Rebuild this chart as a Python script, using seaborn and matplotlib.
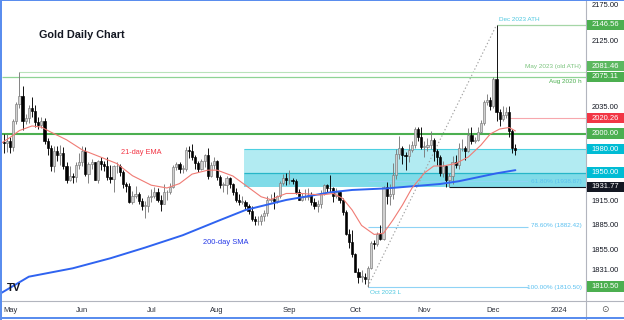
import numpy as np
import pandas as pd
import matplotlib
matplotlib.use("Agg")
import matplotlib.pyplot as plt
import seaborn as sns
from matplotlib.patches import Rectangle
from matplotlib.lines import Line2D
from matplotlib.ticker import FixedLocator, FuncFormatter, NullLocator

# ---------------- data ----------------
candle_start, candle_end = "2023-04-27", "2023-12-12"

open_ = [1989, 1988,
         1990, 1983, 2016, 2039, 2050, 2017, 2021, 2034, 2030, 2015, 2011, 2017, 1990, 1982, 1958, 1978, 1972, 1975, 1958, 1941, 1946, 1944, 1959,
         1963, 1978, 1948, 1961, 1963, 1941, 1965, 1961, 1958, 1944, 1942, 1958, 1958, 1951, 1936, 1933, 1913, 1921, 1923, 1914, 1908, 1908,
         1919, 1921, 1926, 1915, 1911, 1925, 1925, 1932, 1957, 1961, 1955, 1955, 1979, 1977, 1970, 1962, 1955, 1965, 1972, 1946, 1959,
         1965, 1944, 1934, 1934, 1943, 1936, 1925, 1915, 1913, 1913, 1908, 1902, 1892, 1889, 1889, 1895, 1899, 1916, 1917, 1914, 1920, 1937, 1943,
         1940, 1940, 1939, 1926, 1916, 1919, 1919, 1922, 1913, 1908, 1910, 1924, 1934, 1931, 1930, 1920, 1925, 1915, 1901, 1874, 1864,
         1849, 1828, 1822, 1822, 1820, 1833, 1862, 1861, 1874, 1868, 1932, 1920, 1923, 1947, 1974, 1981, 1972, 1971, 1979, 1985, 2006, 1996,
         1983, 1983, 1985, 1992, 1978, 1970, 1950, 1958, 1940, 1946, 1963, 1960, 1981, 1981, 1978, 1998, 1990, 1992, 2002, 2014, 2041, 2044,
         2036, 2072, 2029, 2019, 2025, 2028, 2004, 1982]
high_ = [2000, 2000,
         1996, 2019, 2041, 2081.46, 2063, 2026, 2037, 2048, 2038, 2022, 2022, 2020, 1994, 1985, 1984, 1984, 1985, 1983, 1964, 1958, 1950, 1963, 1975,
         1984, 1983, 1964, 1967, 1964, 1966, 1970, 1965, 1970, 1960, 1959, 1963, 1961, 1953, 1938, 1937, 1927, 1933, 1926, 1918, 1914, 1922,
         1929, 1932, 1930, 1922, 1935, 1928, 1937, 1960, 1964, 1963, 1960, 1983, 1984, 1987, 1972, 1965, 1967, 1974, 1982, 1963, 1970,
         1966, 1947, 1938, 1946, 1944, 1937, 1930, 1923, 1921, 1916, 1911, 1908, 1896, 1896, 1898, 1903, 1920, 1923, 1925, 1922, 1939, 1948, 1949,
         1953, 1943, 1942, 1929, 1924, 1929, 1930, 1925, 1918, 1915, 1928, 1936, 1936, 1947, 1932, 1930, 1927, 1918, 1903, 1880, 1879,
         1850, 1833, 1830, 1826, 1835, 1865, 1866, 1876, 1885, 1933, 1938, 1936, 1962, 1980, 1997, 1984, 1976, 1987, 1990, 2009, 2009, 2008,
         1991, 1994, 2004, 1994, 1980, 1972, 1965, 1960, 1949, 1971, 1973, 1988, 1993, 1984, 2007, 2008, 1996, 2008, 2018, 2044, 2052, 2048,
         2075, 2146.56, 2032, 2036, 2035, 2036, 2006, 1987]
low_ = [1975, 1976,
        1975, 1978, 2012, 2034, 2005, 2012, 2014, 2022, 2008, 2006, 2007, 1987, 1973, 1952, 1951, 1965, 1960, 1955, 1937, 1939, 1937, 1938, 1954,
        1958, 1946, 1937, 1955, 1940, 1937, 1953, 1952, 1941, 1937, 1925, 1950, 1946, 1930, 1925, 1912, 1910, 1918, 1910, 1903, 1893, 1900,
        1913, 1918, 1913, 1902, 1910, 1915, 1923, 1930, 1953, 1950, 1949, 1952, 1968, 1966, 1954, 1951, 1953, 1957, 1942, 1944, 1955,
        1941, 1930, 1925, 1923, 1930, 1922, 1913, 1909, 1910, 1904, 1898, 1890, 1884, 1885, 1885, 1889, 1896, 1913, 1904, 1912, 1918, 1934, 1934,
        1936, 1936, 1923, 1915, 1914, 1916, 1915, 1909, 1904, 1901, 1906, 1922, 1926, 1926, 1913, 1918, 1912, 1897, 1872, 1857, 1846,
        1828, 1815, 1816, 1813, 1810.5, 1831, 1855, 1859, 1866, 1866, 1910, 1909, 1917, 1942, 1967, 1961, 1953, 1963, 1976, 1981, 1990, 1980,
        1970, 1977, 1980, 1965, 1959, 1946, 1944, 1932, 1931.77, 1935, 1956, 1955, 1978, 1966, 1976, 1986, 1988, 1991, 2001, 2011, 2037, 2031,
        2034, 2016, 2010, 2017, 2020, 1996, 1975, 1973]
close_ = [1988, 1990,
          1983, 2016, 2039, 2050, 2017, 2021, 2034, 2030, 2015, 2011, 2017, 1990, 1982, 1958, 1978, 1972, 1975, 1958, 1941, 1946, 1944, 1959, 1963,
          1978, 1948, 1961, 1963, 1941, 1965, 1961, 1958, 1944, 1942, 1958, 1958, 1951, 1936, 1933, 1913, 1921, 1923, 1914, 1908, 1908, 1919,
          1921, 1926, 1915, 1911, 1925, 1925, 1932, 1957, 1961, 1955, 1955, 1979, 1977, 1970, 1962, 1955, 1965, 1972, 1946, 1959, 1965,
          1944, 1934, 1934, 1943, 1936, 1925, 1915, 1913, 1913, 1908, 1902, 1892, 1889, 1889, 1895, 1899, 1916, 1917, 1914, 1920, 1937, 1943, 1940,
          1940, 1939, 1926, 1916, 1919, 1919, 1922, 1913, 1908, 1910, 1924, 1934, 1931, 1930, 1920, 1925, 1915, 1901, 1874, 1864, 1849,
          1828, 1822, 1822, 1820, 1833, 1862, 1861, 1874, 1868, 1932, 1920, 1923, 1947, 1974, 1981, 1972, 1971, 1979, 1985, 2006, 1996, 1983,
          1983, 1985, 1992, 1978, 1970, 1950, 1958, 1940, 1946, 1963, 1960, 1981, 1981, 1978, 1998, 1990, 1992, 2002, 2014, 2041, 2044, 2036,
          2072, 2029, 2019, 2025, 2028, 2004, 1982, 1979]

ema_dates = ["2023-04-26", "2023-05-01", "2023-05-04", "2023-05-10", "2023-05-15", "2023-05-18", "2023-05-25",
             "2023-06-01", "2023-06-09", "2023-06-16", "2023-06-23", "2023-07-03", "2023-07-10", "2023-07-14",
             "2023-07-20", "2023-07-27", "2023-08-01", "2023-08-08", "2023-08-14", "2023-08-21", "2023-08-24",
             "2023-08-31", "2023-09-07", "2023-09-15", "2023-09-21", "2023-09-26", "2023-09-29", "2023-10-04",
             "2023-10-10", "2023-10-13", "2023-10-18", "2023-10-23", "2023-10-26", "2023-11-01", "2023-11-06",
             "2023-11-09", "2023-11-15", "2023-11-21", "2023-11-27", "2023-11-30", "2023-12-05", "2023-12-08",
             "2023-12-12"]
ema_values = [1987, 1995, 2004, 2010, 2008.5, 2002, 1992,
              1979, 1969.5, 1961.5, 1946, 1934, 1930.5, 1936,
              1948, 1953, 1953, 1945.6, 1934, 1919.5, 1916,
              1923.6, 1923.6, 1921.7, 1923.6, 1917.4, 1903, 1884,
              1873, 1874.5, 1890.7, 1909, 1930, 1949.4, 1958.3,
              1958.3, 1961.5, 1969.8, 1985, 1999.5, 2006, 2008,
              2003.5]

sma_dates = ["2023-04-26", "2023-05-09", "2023-05-29", "2023-06-14", "2023-06-29", "2023-07-17", "2023-08-02",
             "2023-08-14", "2023-08-31", "2023-09-20", "2023-09-29", "2023-10-16", "2023-11-08", "2023-11-16",
             "2023-11-24", "2023-12-04", "2023-12-12"]
sma_values = [1802.5, 1822.2, 1832.2, 1844.2, 1857, 1872, 1890.7,
              1903, 1915.5, 1925, 1928, 1930, 1935.5, 1939,
              1944, 1949, 1953]

month_starts = ["2023-05-01", "2023-06-01", "2023-07-03", "2023-08-01", "2023-09-01",
                "2023-10-02", "2023-11-01", "2023-12-01", "2024-01-01"]
month_labels = ["May", "Jun", "Jul", "Aug", "Sep", "Oct", "Nov", "Dec", "2024"]

y_ticks = [2175, 2125, 2035, 1915, 1885, 1855, 1831]

ath_value, ath_date = 2146.56, "2023-12-04"
old_ath_value, old_ath_date = 2081.46, "2023-05-04"
aug2020_value = 2075.11
psych_value = 2000.00
res_value, res_date = 2020.26, "2023-12-08"
zone_top, zone_mid, zone_start = 1980.00, 1950.00, "2023-08-14"
nov_low_value, nov_low_date = 1931.77, "2023-11-13"
oct_low_value, oct_low_date = 1810.50, "2023-10-06"
fib_values = [1938.87, 1882.42, 1810.50]
fib_labels = ["61.80% (1938.87)", "78.60% (1882.42)", "100.00% (1810.50)"]
fib_end_date = "2023-12-18"

price_labels = [(2146.56, "#4caf50"), (2081.46, "#5cb860"), (2075.11, "#4caf50"),
                (2020.26, "#f23645"), (2000.00, "#4caf50"), (1980.00, "#00bcd4"),
                (1950.00, "#00bcd4"), (1931.77, "#131722"), (1810.50, "#4caf50")]

# ---------------- figure ----------------
sns.set_theme(style="white")
plt.rcParams['font.family'] = ['Liberation Sans', 'DejaVu Sans']

W, H = 624, 320
fig = plt.figure(figsize=(W / 100, H / 100), dpi=100)
ax = fig.add_axes([2 / W, 19 / H, 584 / W, 301 / H])
ax.set_facecolor("white")

axis_dates = pd.bdate_range("2023-04-26", "2024-01-31")
origin = axis_dates.get_loc(pd.Timestamp("2023-05-01"))


def pos(d):
    return axis_dates.get_loc(pd.Timestamp(d)) - origin


def P(xp, yp):
    return ((xp - 2) / 584, (301 - yp) / 301)


ax.set_yscale("log")
ax.set_ylim(1793.6, 2181.7)
XMIN, XMAX = -2.55, 183.5
ax.set_xlim(XMIN, XMAX)

cd = pd.bdate_range(candle_start, candle_end)
xc = np.array([pos(d) for d in cd])
o = np.array(open_, float); h = np.array(high_, float)
l = np.array(low_, float); c = np.array(close_, float)
up = c >= o
blo = np.minimum(o, c); bhi = np.maximum(o, c)
bh = np.maximum(bhi - blo, 0.9)

# zone rectangles
x0 = pos(zone_start) - 0.3
ax.add_patch(Rectangle((x0, zone_mid), XMAX - x0, zone_top - zone_mid, facecolor="#b2ebf2", edgecolor="none", zorder=1))
ax.add_patch(Rectangle((x0, nov_low_value), XMAX - x0, zone_mid - nov_low_value, facecolor="#80dbe8", edgecolor="none", zorder=1))
ax.hlines(zone_top, x0, XMAX, color="#4dd0e1", lw=0.8, zorder=1.2)
ax.hlines(zone_mid, x0, XMAX, color="#26b6c8", lw=0.9, zorder=1.2)

# fib levels
xf0 = pos(oct_low_date)
xf1 = pos(fib_end_date)
for v in fib_values:
    ax.hlines(v, xf0, xf1, color="#8fd3f5", lw=0.8, zorder=1.5)
ax.plot([pos(oct_low_date), pos(ath_date)], [oct_low_value, ath_value], color="#a0a0a0",
        lw=0.8, ls=(0, (1.2, 2.0)), zorder=1.5)

# horizontal levels
ax.hlines(ath_value, pos(ath_date), XMAX, color="#a5d6a7", lw=0.9, zorder=1.6)
ax.hlines(old_ath_value, pos(old_ath_date), XMAX, color="#b9e3bb", lw=0.8, zorder=1.6)
ax.hlines(aug2020_value, XMIN, XMAX, color="#8fd394", lw=0.9, zorder=1.6)
ax.hlines(psych_value, XMIN, XMAX, color="#4caf50", lw=1.5, zorder=1.6)
ax.hlines(res_value, pos(res_date), XMAX, color="#f7a7ad", lw=0.8, zorder=1.6)
ax.hlines(nov_low_value, pos(nov_low_date), XMAX, color="#131722", lw=0.8, zorder=1.6)

# candles
wick_col = np.where(up, "#7a7a7a", "#000000")
ax.vlines(xc, l, h, colors=wick_col, lw=0.65, zorder=3)
ax.bar(xc[up], bh[up], bottom=blo[up], width=0.7, color="#d0d0d0", edgecolor="#7a7a7a", linewidth=0.45, zorder=3.1)
ax.bar(xc[~up], bh[~up], bottom=blo[~up], width=0.7, color="#000000", edgecolor="#000000", linewidth=0.45, zorder=3.1)

# moving averages via seaborn
sns.lineplot(x=[pos(d) for d in sma_dates], y=sma_values, ax=ax, color="#2f63f0", lw=1.4, zorder=4)
sns.lineplot(x=[pos(d) for d in ema_dates], y=ema_values, ax=ax, color="#f07b74", lw=0.8, zorder=4)

# axes styling
for s in ax.spines.values():
    s.set_visible(False)
ax.grid(False)
ax.yaxis.tick_right()
ax.yaxis.set_major_locator(FixedLocator(y_ticks))
ax.yaxis.set_minor_locator(NullLocator())
ax.yaxis.set_major_formatter(FuncFormatter(lambda v, _: f"{v:.2f}"))
ax.tick_params(axis="y", length=0, pad=4.2, labelsize=5.4, labelcolor="#131722")
ax.set_xticks([pos(d) for d in month_starts])
ax.set_xticklabels(month_labels)
ax.tick_params(axis="x", length=0, pad=4.6, labelsize=5.4, labelcolor="#2a2e39")

# annotations
tk = dict(transform=ax.transAxes, va="center")
ax.text(*P(39, 35), "Gold Daily Chart", ha="left", fontsize=7.8, fontweight="bold", color="#131722", **tk)
ax.text(*P(121, 152), "21-day EMA", ha="left", fontsize=5.3, color="#f23645", **tk)
ax.text(*P(203, 242), "200-day SMA", ha="left", fontsize=5.4, color="#2438e8", **tk)
ax.text(*P(499, 19.5), "Dec 2023 ATH", ha="left", fontsize=4.6, color="#4fc8e0", **tk)
ax.text(*P(581, 66.5), "May 2023 (old ATH)", ha="right", fontsize=4.6, color="#7cc47f", **tk)
ax.text(*P(582, 82), "Aug 2020 h", ha="right", fontsize=4.6, color="#4caf50", **tk)
for lab, yp in zip(fib_labels, [181.5, 226, 287]):
    ax.text(*P(582, yp), lab, ha="right", fontsize=4.6, color="#5bc0f0", **tk)
ax.text(*P(370, 292.5), "Oct 2023 L", ha="left", fontsize=4.6, color="#4fc8e0", **tk)

# price label boxes on the right axis
offsets = {2081.46: 6.0}
for val, col in price_labels:
    yd = ax.transData.transform((0, val))[1] + offsets.get(val, 0.0)
    fig.patches.append(Rectangle((586.5 / W, (yd - 5.2) / H), 37 / W, 10.4 / H,
                                 transform=fig.transFigure, facecolor=col, edgecolor="none", zorder=5))
    fig.text(605 / W, yd / H, f"{val:.2f}", ha="center", va="center", fontsize=5.5, color="white", zorder=6)

# frame lines
fig.add_artist(Line2D([2 / W, 1], [19 / H, 19 / H], transform=fig.transFigure, color="#b2b5be", lw=0.8))
fig.add_artist(Line2D([586 / W, 586 / W], [0, 1], transform=fig.transFigure, color="#b2b5be", lw=0.8))
blue = "#5a8dee"
fig.patches.append(Rectangle((0, 0), 2 / W, 1, transform=fig.transFigure, facecolor=blue, edgecolor="none", zorder=10))
fig.patches.append(Rectangle((0, 1 - 1.4 / H), 1, 1.4 / H, transform=fig.transFigure, facecolor=blue, edgecolor="none", zorder=10))
fig.patches.append(Rectangle((0, 1.2 / H), 1, 1.8 / H, transform=fig.transFigure, facecolor=blue, edgecolor="none", zorder=10))

# logo and settings glyph
fig.text(7 / W, 1 - 288 / H, "TV", ha="left", va="center", fontsize=8, fontweight="bold", color="#131722")
fig.text(605 / W, 1 - 310 / H, "⊙", ha="center", va="center", fontsize=6.5, color="#555555", family="DejaVu Sans")

fig.savefig("out.png", dpi=100)
